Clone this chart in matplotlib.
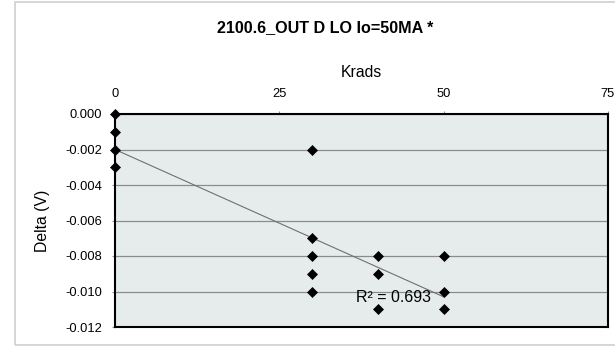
import numpy as np
import matplotlib
matplotlib.use("Agg")
import matplotlib.pyplot as plt
from matplotlib.patches import Rectangle

plt.rcParams['font.family'] = ['Liberation Sans', 'DejaVu Sans']

# data
krads = [0, 0, 0, 0, 30, 30, 30, 30, 30, 40, 40, 40, 50, 50, 50]
delta = [0.000, -0.001, -0.002, -0.003,
         -0.002, -0.007, -0.008, -0.009, -0.010,
         -0.008, -0.009, -0.011,
         -0.008, -0.010, -0.011]

# linear trendline as shown on the chart
trend_intercept = -0.0020
trend_slope = -0.000166
r_squared = 0.693

x_ticks = [0, 25, 50, 75]
y_ticks = [0.000, -0.002, -0.004, -0.006, -0.008, -0.010, -0.012]

title = "2100.6_OUT D LO Io=50MA *"

fig = plt.figure(figsize=(6.15, 3.47), dpi=100)
fig.patch.set_facecolor('white')

# outer chart frame
fig.patches.append(Rectangle((15 / 615, 2 / 347), 1.2, 343 / 347,
                             transform=fig.transFigure, fill=False,
                             edgecolor='#D0D0D0', linewidth=1.2))

ax = fig.add_axes([115 / 615, 1 - 327 / 347, 493 / 615, 213 / 347])
ax.set_facecolor('#E6EBEB')

ax.set_xlim(0, 75)
ax.set_ylim(-0.012, 0.000)
ax.set_xticks(x_ticks)
ax.set_yticks(y_ticks)
ax.set_yticklabels([f"{v:.3f}" for v in y_ticks])

ax.xaxis.tick_top()
ax.xaxis.set_label_position('top')
ax.tick_params(axis='x', direction='out', length=2.5, width=0.8, color='#909090',
               labelsize=9.3, pad=7.5)
ax.tick_params(axis='y', direction='out', length=2.5, width=0.8, color='#909090',
               labelsize=9.3, pad=7)

ax.grid(axis='y', color='#8C8C8C', linewidth=0.9)
ax.set_axisbelow(True)
for s in ax.spines.values():
    s.set_color('black')
    s.set_linewidth(1.5)

ax.set_xlabel("Krads", fontsize=11.3, labelpad=8)
ax.set_ylabel("Delta (V)", fontsize=11.3, labelpad=11)

# trendline over the data range
xt = np.array([min(krads), max(krads)])
ax.plot(xt, trend_intercept + trend_slope * xt, color='#707070', linewidth=0.8,
        zorder=3)

ax.plot(krads, delta, linestyle='none', marker='D', markersize=5.6,
        markeredgewidth=0.5, color='black', clip_on=False, zorder=4)

ax.text(36.6, -0.01035, f"R² = {r_squared}", fontsize=11.5, va='center',
        ha='left', zorder=5)

fig.text(325 / 615, 1 - 28 / 347, title, ha='center', va='center',
         fontsize=11.6, fontweight='bold')

fig.savefig("out.png", dpi=100)
